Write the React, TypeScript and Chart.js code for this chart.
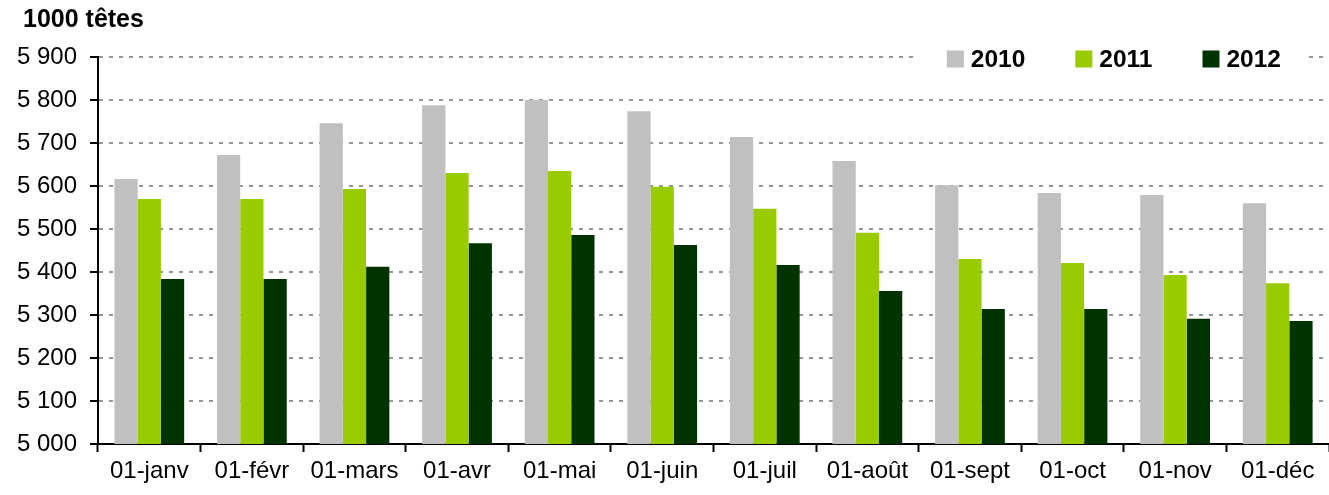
import React, { useEffect, useRef } from 'react';
import { Chart, registerables } from 'chart.js';

Chart.register(...registerables);

const categories = ['01-janv', '01-févr', '01-mars', '01-avr', '01-mai', '01-juin', '01-juil', '01-août', '01-sept', '01-oct', '01-nov', '01-déc'];
const seriesNames = ['2010', '2011', '2012'];
const values2010 = [5616, 5672, 5746, 5788, 5800, 5774, 5714, 5658, 5602, 5584, 5579, 5560];
const values2011 = [5570, 5570, 5593, 5630, 5635, 5598, 5547, 5491, 5430, 5421, 5393, 5374];
const values2012 = [5384, 5384, 5412, 5467, 5486, 5463, 5416, 5356, 5314, 5314, 5291, 5286];
const seriesColors = ['#C0C0C0', '#99CC00', '#003300'];
const yMin = 5000;
const yMax = 5900;
const yStep = 100;
const unitLabel = '1000 têtes';

const FONT = '"Liberation Sans", Arial, sans-serif';

const fmt = (v: number) => String(v).replace(/\B(?=(\d{3})+(?!\d))/g, ' ');

const overlayPlugin = {
  id: 'overlay',
  afterDraw(chart: any) {
    const ctx = chart.ctx as CanvasRenderingContext2D;
    ctx.save();
    ctx.fillStyle = '#000';
    ctx.textBaseline = 'middle';
    ctx.textAlign = 'left';
    ctx.font = `bold 25px ${FONT}`;
    ctx.fillText(unitLabel, 23, 20);

    ctx.font = `bold 24.5px ${FONT}`;
    const boxSize = 17;
    const gapText = 7;
    const gapItem = 50;
    const items = chart.data.datasets.map((ds: any) => ({
      label: ds.label,
      color: ds.backgroundColor,
      w: ctx.measureText(ds.label).width,
    }));
    const total = items.reduce((s: number, it: any) => s + boxSize + gapText + it.w, 0) + gapItem * (items.length - 1);
    const rightEnd = chart.chartArea.right - 48;
    let x = rightEnd - total;
    const cy = 59;
    ctx.fillStyle = '#fff';
    ctx.fillRect(x - 33, 42, total + 60, 34);
    items.forEach((it: any) => {
      ctx.fillStyle = it.color;
      ctx.fillRect(x, cy - 8.5, boxSize, boxSize);
      ctx.fillStyle = '#000';
      ctx.fillText(it.label, x + boxSize + gapText, cy + 1);
      x += boxSize + gapText + it.w + gapItem;
    });
    ctx.restore();
  },
};

export default function App() {
  const canvasRef = useRef<HTMLCanvasElement | null>(null);

  useEffect(() => {
    const canvas = canvasRef.current;
    if (!canvas) return;
    const seriesValues = [values2010, values2011, values2012];
    const chart = new Chart(canvas, {
      type: 'bar',
      data: {
        labels: categories,
        datasets: seriesNames.map((name, i) => ({
          label: name,
          data: seriesValues[i],
          backgroundColor: seriesColors[i],
          borderWidth: 0,
          barPercentage: 1,
          categoryPercentage: 0.68,
        })),
      },
      options: {
        responsive: false,
        animation: false,
        devicePixelRatio: 1,
        layout: { padding: { top: 57, right: 0, bottom: 0, left: 0 } },
        plugins: {
          legend: { display: false },
          title: { display: false },
          tooltip: { enabled: false },
        },
        scales: {
          x: {
            offset: true,
            grid: {
              display: true,
              offset: true,
              drawOnChartArea: false,
              drawTicks: true,
              tickLength: 8,
              tickColor: '#000',
              tickWidth: 2,
            },
            border: { display: true, color: '#000', width: 2 },
            ticks: {
              color: '#000',
              font: { family: FONT, size: 24 },
              padding: 5,
              maxRotation: 0,
              autoSkip: false,
            },
            afterFit(scale: any) {
              scale.height = 51;
            },
          },
          y: {
            min: yMin,
            max: yMax,
            grid: {
              color: (c: any) => (c.tick && c.tick.value === yMin ? 'rgba(0,0,0,0)' : '#969696'),
              lineWidth: 2,
              drawTicks: true,
              tickLength: 8,
              tickColor: '#000',
              tickWidth: 2,
              tickBorderDash: [],
            },
            border: { display: true, color: '#000', width: 2, dash: [4, 6] },
            ticks: {
              stepSize: yStep,
              color: '#000',
              font: { family: FONT, size: 24 },
              padding: 13,
              callback: (v: any) => fmt(Number(v)),
            },
            afterFit(scale: any) {
              scale.width = 98;
            },
          },
        },
      },
      plugins: [overlayPlugin],
    } as any);
    return () => chart.destroy();
  }, []);

  return (
    <div style={{ position: 'absolute', left: 0, top: 0, width: 1329, height: 495, background: '#fff' }}>
      <canvas ref={canvasRef} width={1329} height={495} style={{ display: 'block' }} />
    </div>
  );
}
